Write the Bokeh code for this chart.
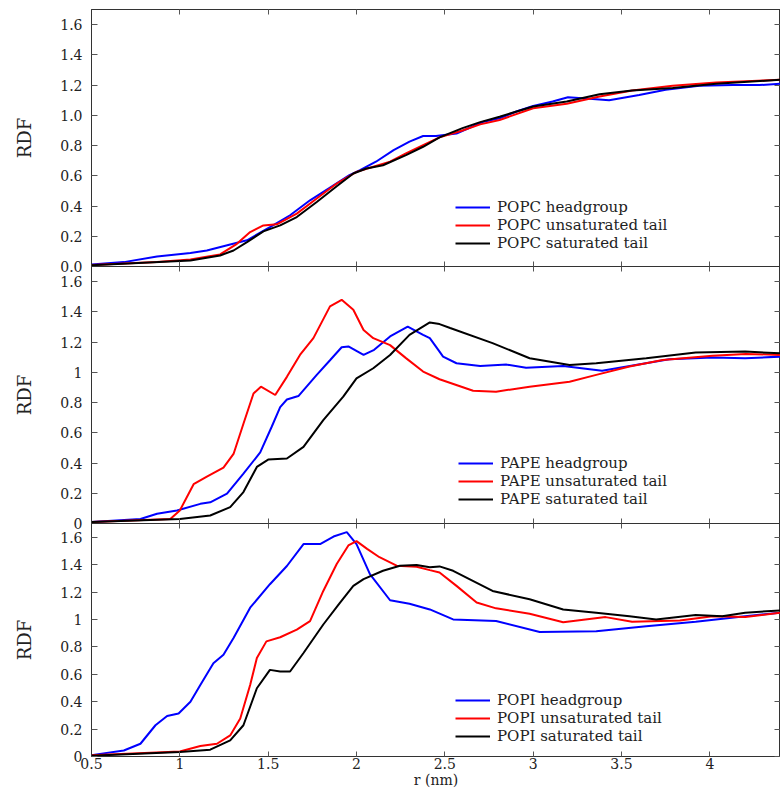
from bokeh.plotting import figure
from bokeh.layouts import column
from bokeh.models import FixedTicker, LinearAxis, Legend, LegendItem, Range1d
from bokeh.embed import file_html
from bokeh.resources import INLINE

# ---------------- data ----------------
X_START, X_END = 0.5, 4.4
Y_START, Y_END = 0.0, 1.7
X_TICKS = [0.5, 1, 1.5, 2, 2.5, 3, 3.5, 4]
Y_TICKS = [0, 0.2, 0.4, 0.6, 0.8, 1.0, 1.2, 1.4, 1.6]
X_LABEL = "r (nm)"
Y_LABEL = "RDF"

# POPC
popc_head_r = [0.5, 0.683, 0.871, 1.06, 1.153, 1.285, 1.38, 1.51, 1.624, 1.737, 1.85, 1.96, 2.02, 2.11, 2.21, 2.30,
               2.377, 2.45, 2.566, 2.72, 2.81, 2.905, 3.0, 3.11, 3.197, 3.30, 3.43, 3.60, 3.75, 3.94, 4.13, 4.28, 4.4]
popc_head_g = [0.013, 0.029, 0.066, 0.089, 0.106, 0.146, 0.173, 0.261, 0.339, 0.438, 0.522, 0.604, 0.637, 0.693, 0.77,
               0.826, 0.863, 0.863, 0.88, 0.958, 0.98, 1.025, 1.062, 1.091, 1.12, 1.111, 1.10, 1.135, 1.169, 1.195, 1.20,
               1.20, 1.209]
popc_unsat_r = [0.5, 0.871, 1.06, 1.228, 1.323, 1.398, 1.473, 1.549, 1.662, 1.775, 1.888, 2.0, 2.095, 2.19, 2.28, 2.377,
                2.47, 2.6, 2.7, 2.81, 3.0, 3.19, 3.376, 3.56, 3.79, 4.035, 4.4]
popc_unsat_g = [0.01, 0.029, 0.046, 0.08, 0.15, 0.228, 0.272, 0.279, 0.35, 0.45, 0.549, 0.626, 0.66, 0.693, 0.748, 0.803,
                0.854, 0.90, 0.94, 0.969, 1.047, 1.076, 1.124, 1.164, 1.195, 1.217, 1.235]
popc_sat_r = [0.5, 1.06, 1.228, 1.304, 1.38, 1.473, 1.568, 1.662, 1.775, 1.888, 1.982, 2.056, 2.15, 2.28, 2.377, 2.47,
              2.6, 2.7, 2.81, 3.0, 3.19, 3.376, 3.56, 3.79, 4.035, 4.4]
popc_sat_g = [0.008, 0.04, 0.073, 0.106, 0.161, 0.232, 0.272, 0.327, 0.427, 0.531, 0.615, 0.648, 0.67, 0.737, 0.792,
              0.854, 0.915, 0.955, 0.991, 1.058, 1.091, 1.14, 1.164, 1.18, 1.209, 1.235]

# PAPE
pape_head_r = [0.5, 0.777, 0.871, 0.984, 1.116, 1.172, 1.267, 1.36, 1.455, 1.52, 1.568, 1.606, 1.671, 1.775, 1.85, 1.916,
               1.954, 2.04, 2.10, 2.19, 2.29, 2.377, 2.415, 2.47, 2.49, 2.566, 2.70, 2.85, 2.96, 3.17, 3.39, 3.58, 3.77,
               4.016, 4.2, 4.4]
pape_head_g = [0.01, 0.03, 0.064, 0.086, 0.13, 0.14, 0.197, 0.33, 0.47, 0.64, 0.77, 0.82, 0.843, 0.983, 1.08, 1.166,
               1.171, 1.115, 1.149, 1.237, 1.303, 1.248, 1.226, 1.137, 1.104, 1.06, 1.042, 1.051, 1.031, 1.042, 1.011,
               1.049, 1.087, 1.098, 1.093, 1.104]
pape_unsat_r = [0.5, 0.946, 1.0, 1.078, 1.153, 1.247, 1.304, 1.36, 1.417, 1.459, 1.54, 1.606, 1.68, 1.756, 1.85, 1.916,
                1.982, 2.04, 2.095, 2.19, 2.28, 2.377, 2.47, 2.66, 2.79, 2.98, 3.206, 3.357, 3.545, 3.733, 4.016, 4.204,
                4.4]
pape_unsat_g = [0.01, 0.03, 0.086, 0.26, 0.31, 0.37, 0.46, 0.66, 0.86, 0.905, 0.85, 0.97, 1.115, 1.226, 1.436, 1.48,
                1.414, 1.28, 1.226, 1.18, 1.094, 1.005, 0.954, 0.878, 0.872, 0.905, 0.938, 0.983, 1.038, 1.082, 1.109,
                1.122, 1.115]
pape_sat_r = [0.5, 1.0, 1.172, 1.285, 1.36, 1.436, 1.50, 1.606, 1.70, 1.812, 1.925, 2.0, 2.095, 2.19, 2.30, 2.415, 2.47,
              2.53, 2.77, 2.98, 3.206, 3.357, 3.64, 3.92, 4.2, 4.4]
pape_sat_g = [0.01, 0.03, 0.053, 0.108, 0.208, 0.374, 0.423, 0.43, 0.507, 0.684, 0.839, 0.96, 1.027, 1.115, 1.248, 1.33,
              1.319, 1.293, 1.193, 1.093, 1.049, 1.06, 1.093, 1.131, 1.137, 1.126]

# POPI
popi_head_r = [0.5, 0.683, 0.777, 0.862, 0.928, 0.993, 1.06, 1.116, 1.19, 1.247, 1.304, 1.398, 1.51, 1.606, 1.70, 1.794,
               1.87, 1.945, 2.0, 2.076, 2.19, 2.30, 2.415, 2.547, 2.79, 3.037, 3.357, 3.64, 3.92, 4.2, 4.4]
popi_head_g = [0.01, 0.044, 0.093, 0.228, 0.296, 0.314, 0.40, 0.522, 0.68, 0.743, 0.865, 1.086, 1.257, 1.39, 1.55, 1.55,
               1.605, 1.637, 1.55, 1.33, 1.14, 1.115, 1.073, 1.0, 0.988, 0.909, 0.914, 0.951, 0.983, 1.024, 1.049]
popi_unsat_r = [0.5, 1.0, 1.116, 1.21, 1.285, 1.342, 1.398, 1.436, 1.49, 1.568, 1.662, 1.737, 1.812, 1.888, 1.954, 2.0,
                2.06, 2.13, 2.227, 2.34, 2.415, 2.47, 2.566, 2.68, 2.79, 2.98, 3.17, 3.41, 3.56, 3.83, 4.016, 4.2, 4.4]
popi_unsat_g = [0.01, 0.037, 0.076, 0.093, 0.154, 0.277, 0.522, 0.718, 0.84, 0.87, 0.926, 0.988, 1.208, 1.404, 1.54,
                1.571, 1.515, 1.454, 1.392, 1.385, 1.36, 1.343, 1.245, 1.123, 1.081, 1.042, 0.98, 1.017, 0.983, 0.993,
                1.024, 1.017, 1.049]
popi_sat_r = [0.5, 1.0, 1.172, 1.285, 1.36, 1.436, 1.51, 1.568, 1.624, 1.70, 1.812, 1.907, 1.982, 2.04, 2.15, 2.246,
              2.34, 2.415, 2.47, 2.547, 2.77, 2.98, 3.17, 3.357, 3.545, 3.696, 3.92, 4.07, 4.2, 4.4]
popi_sat_g = [0.005, 0.032, 0.05, 0.118, 0.228, 0.498, 0.632, 0.62, 0.62, 0.755, 0.963, 1.123, 1.245, 1.294, 1.355,
              1.392, 1.397, 1.38, 1.387, 1.355, 1.208, 1.147, 1.073, 1.049, 1.024, 1.0, 1.032, 1.024, 1.049, 1.066]

PANELS = [
    ("POPC", [(popc_head_r, popc_head_g, "headgroup"), (popc_unsat_r, popc_unsat_g, "unsaturated tail"),
              (popc_sat_r, popc_sat_g, "saturated tail")]),
    ("PAPE", [(pape_head_r, pape_head_g, "headgroup"), (pape_unsat_r, pape_unsat_g, "unsaturated tail"),
              (pape_sat_r, pape_sat_g, "saturated tail")]),
    ("POPI", [(popi_head_r, popi_head_g, "headgroup"), (popi_unsat_r, popi_unsat_g, "unsaturated tail"),
              (popi_sat_r, popi_sat_g, "saturated tail")]),
]
COLORS = ["#0000ff", "#ff0000", "#000000"]

# ---------------- styling ----------------
FONT = "DejaVu Serif"
FRAME_W = 689
FRAME_HS = [257, 257, 233]
LEGEND_LOCS = [(364, 14), (367, 15), (364, 11)]
AX_COLOR = "#333333"
TICK_COLOR = "#555555"
PAD = 10


def style_hidden_axis(ax, ticks, tick_in):
    ax.ticker = FixedTicker(ticks=ticks)
    ax.major_label_overrides = {t: "" for t in ticks}
    ax.major_tick_in = tick_in
    ax.major_tick_out = 0
    ax.minor_tick_line_color = None
    ax.major_tick_line_color = TICK_COLOR
    ax.axis_line_color = AX_COLOR
    ax.major_label_standoff = 0


def make_panel(idx):
    name, series = PANELS[idx]
    first = idx == 0
    last = idx == len(PANELS) - 1
    p = figure(frame_width=FRAME_W, frame_height=FRAME_HS[idx],
               x_range=Range1d(X_START, X_END), y_range=Range1d(Y_START, Y_END),
               output_backend="svg", toolbar_location=None,
               min_border_left=91, min_border_right=0,
               min_border_top=9 if first else PAD,
               min_border_bottom=32 if last else PAD,
               x_axis_location="below" if last else None,
               outline_line_color=AX_COLOR,
               border_fill_color=None, background_fill_color=None)
    if not first:
        p.margin = (-2 * PAD, 0, 0, 0)
    p.grid.visible = False

    yax = p.left[0]
    xax = p.below[0] if last else None

    # left axis
    yax.ticker = FixedTicker(ticks=Y_TICKS)
    if first:
        yax.major_label_overrides = {0: "0.0", 1: "1.0"}
    yax.major_tick_in = 6
    yax.major_tick_out = 0
    yax.minor_tick_line_color = None
    yax.major_tick_line_color = TICK_COLOR
    yax.axis_line_color = AX_COLOR
    yax.major_label_text_font = FONT
    yax.major_label_text_font_size = "14px"
    yax.major_label_text_color = "#222222"
    yax.major_label_standoff = 9
    yax.axis_label = Y_LABEL
    yax.axis_label_text_font = FONT
    yax.axis_label_text_font_size = "18px"
    yax.axis_label_text_font_style = "normal"
    yax.axis_label_text_color = "#222222"
    yax.axis_label_standoff = 22

    # right axis (ticks only)
    rax = LinearAxis()
    style_hidden_axis(rax, Y_TICKS, 6)
    p.add_layout(rax, "right")

    # top axis (ticks only)
    tax = LinearAxis()
    style_hidden_axis(tax, X_TICKS, 5)
    p.add_layout(tax, "above")

    if last:
        xax.ticker = FixedTicker(ticks=X_TICKS)
        xax.major_tick_in = 5
        xax.major_tick_out = 0
        xax.minor_tick_line_color = None
        xax.major_tick_line_color = TICK_COLOR
        xax.axis_line_color = AX_COLOR
        xax.major_label_text_font = FONT
        xax.major_label_text_font_size = "14px"
        xax.major_label_text_color = "#222222"
        xax.major_label_standoff = 1
        xax.axis_label = X_LABEL
        xax.axis_label_text_font = FONT
        xax.axis_label_text_font_size = "14px"
        xax.axis_label_text_font_style = "normal"
        xax.axis_label_text_color = "#222222"
        xax.axis_label_standoff = 0
    else:
        bax = LinearAxis()
        style_hidden_axis(bax, X_TICKS, 5)
        p.add_layout(bax, "below")

    items = []
    for (r, g, label), color in zip(series, COLORS):
        rend = p.line(r, g, line_color=color, line_width=2)
        items.append(LegendItem(label=f"{name} {label}", renderers=[rend]))

    legend = Legend(items=items, location=LEGEND_LOCS[idx],
                    border_line_color=None, background_fill_alpha=0,
                    padding=0, margin=0, spacing=0,
                    glyph_width=35, glyph_height=14, label_height=14,
                    label_standoff=7, label_text_font=FONT,
                    label_text_font_size="15px", label_text_color="#222222")
    p.add_layout(legend)
    return p


panels = [make_panel(i) for i in range(len(PANELS))]
layout = column(*panels, spacing=0)

open("out.html", "w").write(file_html(layout, INLINE))
